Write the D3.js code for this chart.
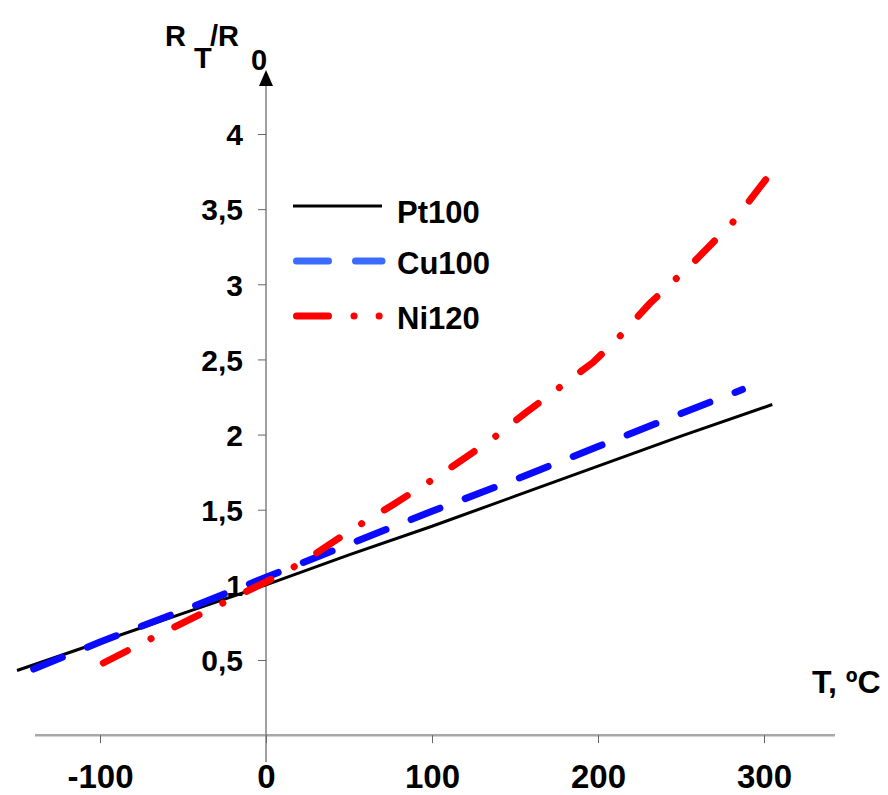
<!DOCTYPE html>
<meta charset="utf-8">
<html>
<head>
<style>
  html, body { margin: 0; padding: 0; background: #fff; }
  svg text { font-family: Arial, "Liberation Sans", sans-serif; font-weight: bold; fill: #000; }
</style>
</head>
<body>
<svg width="888" height="795"></svg>
<script src="https://cdn.jsdelivr.net/npm/d3@7"></script>
<script>
// values: temperature (°C) and R_T/R_0
var ptT = [-150, -100, -50, 0, 50, 100, 150, 200, 250, 305];
var ptR = [0.43, 0.62, 0.81, 1.0, 1.2, 1.39, 1.59, 1.79, 1.99, 2.2];

var cuT = [-140, -100, -50, 0, 50, 100, 150, 200, 250, 287];
var cuR = [0.44, 0.62, 0.83, 1.05, 1.27, 1.49, 1.7, 1.92, 2.14, 2.3];

var niT = [-98, -66, -35, 0, 22, 52, 76, 106, 135, 157, 197, 212, 231, 257, 281, 302];
var niR = [0.48, 0.66, 0.83, 1.02, 1.15, 1.37, 1.53, 1.74, 1.96, 2.15, 2.48, 2.64, 2.87, 3.14, 3.41, 3.71];

var xTicks = [-100, 0, 100, 200, 300];
var yTicks = [0.5, 1, 1.5, 2, 2.5, 3, 3.5, 4];

var seriesNames = ["Pt100", "Cu100", "Ni120"];

var svg = d3.select("svg");

var x = d3.scaleLinear().domain([-100, 300]).range([100, 764]);
var y = d3.scaleLinear().domain([0.5, 4]).range([660, 134]);

var series = [
    { name: seriesNames[0], pts: d3.zip(ptT, ptR), color: "#000", width: 3, dash: null,
      legColor: "#000", legDash: null },
    { name: seriesNames[1], pts: d3.zip(cuT, cuR), color: "#0a0aff", width: 7, dash: "31,27",
      legColor: "#3b6cff", legDash: "32,27" },
    { name: seriesNames[2], pts: d3.zip(niT, niR), color: "#ff0000", width: 7, dash: "27,26.5,0.1,26.5",
      legColor: "#ff0000", legDash: "32,25.5,0.1,25,0.1,100" }
];

// axes lines
svg.append("line")
    .attr("x1", 35).attr("x2", 835)
    .attr("y1", y(0)).attr("y2", y(0))
    .attr("stroke", "#a8a8a8").attr("stroke-width", 2.5);

svg.append("line")
    .attr("x1", x(0)).attr("x2", x(0))
    .attr("y1", 762).attr("y2", 82)
    .attr("stroke", "#808080").attr("stroke-width", 1.5);

svg.append("path")
    .attr("d", "M" + x(0) + ",70 L" + (x(0) - 7) + ",86 L" + (x(0) + 7) + ",86 Z")
    .attr("fill", "#000");

// y ticks
var yAxis = svg.append("g")
    .attr("transform", "translate(" + x(0) + ",0)")
    .call(d3.axisLeft(y).tickValues(yTicks).tickSize(8).tickPadding(15)
        .tickFormat(function (d) { return String(d).replace(".", ","); }));
yAxis.select(".domain").remove();
yAxis.selectAll(".tick line").attr("stroke", "#666");
yAxis.selectAll("text").attr("font-size", 30).attr("font-family", null).attr("dy", "0.36em");

// x ticks
var xAxis = svg.append("g")
    .attr("transform", "translate(0," + y(0) + ")")
    .call(d3.axisBottom(x).tickValues(xTicks).tickSize(8).tickPadding(21)
        .tickFormat(function (d) { return String(d); }));
xAxis.select(".domain").remove();
xAxis.selectAll(".tick line").attr("stroke", "#666");
xAxis.selectAll("text").attr("font-size", 33).attr("font-family", null).attr("dy", "0.71em");

// curves
var line = d3.line()
    .x(function (d) { return x(d[0]); })
    .y(function (d) { return y(d[1]); });

svg.selectAll(".curve")
    .data(series)
    .enter()
        .append("path")
        .attr("class", "curve")
        .attr("d", function (d) { return line(d.pts); })
        .attr("fill", "none")
        .attr("stroke", function (d) { return d.color; })
        .attr("stroke-width", function (d) { return d.width; })
        .attr("stroke-linecap", function (d) { return d.dash ? "round" : "butt"; })
        .attr("stroke-dasharray", function (d) { return d.dash; });

// legend
var leg = svg.selectAll(".leg")
    .data(series)
    .enter()
        .append("g")
        .attr("class", "leg")
        .attr("transform", function (d, i) { return "translate(0," + (206 + i * 55) + ")"; });

leg.append("line")
    .attr("x1", function (d) { return d.legDash ? 296.5 : 293; })
    .attr("x2", 382)
    .attr("stroke", function (d) { return d.legColor; })
    .attr("stroke-width", function (d) { return d.width; })
    .attr("stroke-linecap", function (d) { return d.legDash ? "round" : "butt"; })
    .attr("stroke-dasharray", function (d) { return d.legDash; });

leg.append("text")
    .attr("x", 397)
    .attr("y", function (d, i) { return i === 0 ? 6 : 2; })
    .attr("dy", "0.36em")
    .attr("font-size", 31)
    .text(function (d) { return d.name; });

// axis titles
var yt = svg.append("g").attr("font-size", 29);
yt.append("text").attr("x", 165).attr("y", 46).text("R");
yt.append("text").attr("x", 194).attr("y", 68).text("T");
yt.append("text").attr("x", 210).attr("y", 46).text("/R");
yt.append("text").attr("x", 251).attr("y", 70).text("0");

svg.append("text")
    .attr("x", 812).attr("y", 693)
    .attr("font-size", 32)
    .text("T, ºC");
</script>
</body>
</html>
